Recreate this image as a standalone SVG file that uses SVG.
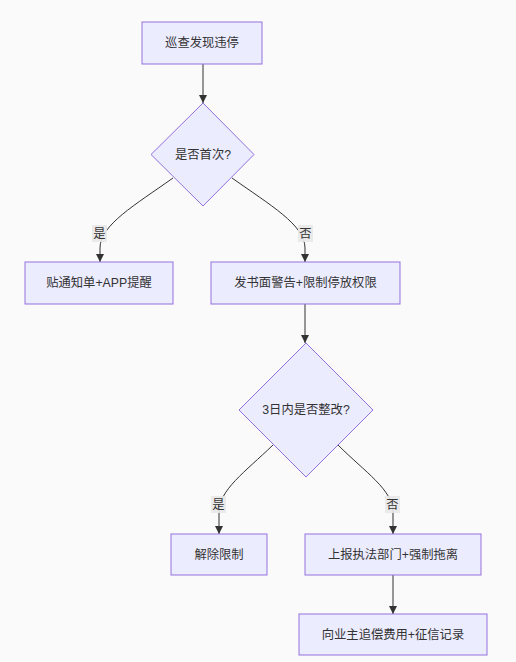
<svg xmlns="http://www.w3.org/2000/svg" width="516" height="662" viewBox="0 0 516 662">
<style>
.node rect,.node polygon{fill:#ECECFF;stroke:#9370DB;stroke-width:1}
text{font-family:"Liberation Sans","Noto Sans CJK SC",sans-serif;font-size:12.3px;fill:#333;text-anchor:middle;dominant-baseline:central}
.edge{fill:none;stroke:#333;stroke-width:1}
.lbl{fill:#e8e8e8;opacity:0.9}
</style>
<defs>
<marker id="arr" viewBox="0 0 10 10" refX="10" refY="5" markerWidth="8" markerHeight="8" markerUnits="userSpaceOnUse" orient="auto">
<path d="M0,0 L10,5 L0,10 z" fill="#333"/>
</marker>
</defs>
<rect width="516" height="662" fill="#fafafa"/>
<g id="edges">
<path class="edge" d="M203,64 L203,103" marker-end="url(#arr)"/>
<path class="edge" d="M173,178 C135,205 100,225 100,248 L100,262" marker-end="url(#arr)"/>
<path class="edge" d="M232,178 C270,205 305,225 305,248 L305,262" marker-end="url(#arr)"/>
<path class="edge" d="M305,304 L305,343" marker-end="url(#arr)"/>
<path class="edge" d="M273,445 C245,472 219,490 219,512 L219,534" marker-end="url(#arr)"/>
<path class="edge" d="M338,445 C365,472 393,490 393,512 L393,534" marker-end="url(#arr)"/>
<path class="edge" d="M393,575 L393,614" marker-end="url(#arr)"/>
<rect class="lbl" x="92" y="225" width="15" height="17"/>
<text x="99.5" y="233.5">是</text>
<rect class="lbl" x="298" y="225" width="15" height="17"/>
<text x="305.5" y="233.5">否</text>
<rect class="lbl" x="211" y="496" width="15" height="17"/>
<text x="218.5" y="504.5">是</text>
<rect class="lbl" x="385" y="496" width="15" height="17"/>
<text x="392.5" y="504.5">否</text>
</g>
<g id="n1" class="node"><rect x="142" y="22" width="120" height="42"/><text x="202" y="43">巡查发现违停</text></g>
<g id="n2" class="node"><polygon points="203,103 254,154.5 203,206 151,154.5"/><text x="203" y="154.5">是否首次?</text></g>
<g id="n3" class="node"><rect x="25" y="262" width="148" height="42"/><text x="99" y="283">贴通知单+APP提醒</text></g>
<g id="n4" class="node"><rect x="211" y="262" width="189" height="42"/><text x="305.5" y="283">发书面警告+限制停放权限</text></g>
<g id="n5" class="node"><polygon points="306,343 373,410 306,477 239,410"/><text x="306" y="410">3日内是否整改?</text></g>
<g id="n6" class="node"><rect x="171" y="534" width="96" height="41"/><text x="219" y="554.5">解除限制</text></g>
<g id="n7" class="node"><rect x="305" y="534" width="176" height="41"/><text x="393" y="554.5">上报执法部门+强制拖离</text></g>
<g id="n8" class="node"><rect x="299" y="614" width="188" height="41"/><text x="393" y="634.5">向业主追偿费用+征信记录</text></g>
</svg>
